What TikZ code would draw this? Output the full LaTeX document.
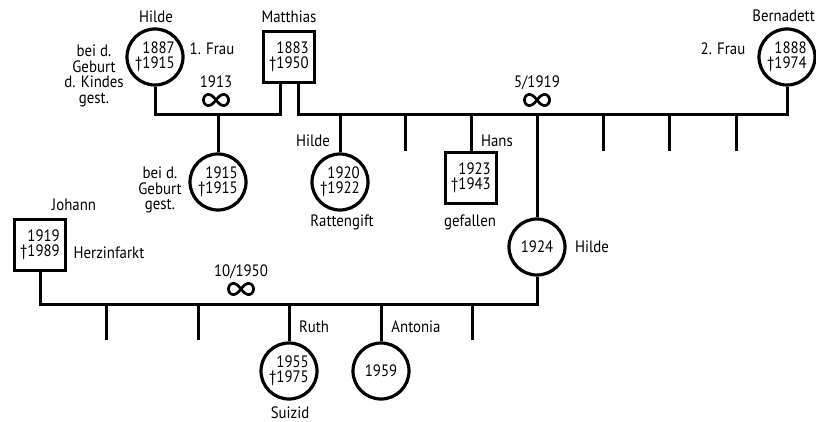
\documentclass[tikz,border=0pt]{standalone}
\usepackage{fontspec}
\setmainfont{PT Sans}[FakeStretch=0.9]
\begin{document}
\begin{tikzpicture}[x=1pt,y=-1pt,
  every node/.style={font=\fontsize{16.5}{15.5}\selectfont, inner sep=0pt},
  fem/.style={circle, draw, line width=3.2pt, minimum size=56pt, align=right},
  mal/.style={rectangle, draw, line width=3.5pt, minimum size=51pt, align=right},
  ln/.style={line width=3pt, line join=miter},
  lbl/.style={align=center},
  infsym/.style={line width=2.7pt}]
\useasboundingbox (0,0) rectangle (816,422);

% persons
\node[fem] (hilde1) at (155,57) {1887\\†1915};
\node[mal] (matthias) at (289,57) {1883\\†1950};
\node[fem] (bern) at (787,57) {1888\\†1974};
\node[fem] (c1915) at (218,182) {1915\\†1915};
\node[fem] (hilde2) at (340,182) {1920\\†1922};
\node[mal] (hans) at (471,178) {1923\\†1943};
\node[fem] (hilde3) at (537,247) {1924};
\node[mal] (johann) at (40,245) {1919\\†1989};
\node[fem] (ruth) at (289,371) {1955\\†1975};
\node[fem] (antonia) at (381,371) {1959};

% levels
\coordinate (lev1) at (0,115);
\coordinate (lev3) at (0,304);
\coordinate (mleg) at ([xshift=-9pt]matthias.south);
\coordinate (mleg2) at ([xshift=9pt]matthias.south);

% marriage 1
\draw[ln] (hilde1.south) |- (mleg |- lev1) -- (mleg);
\draw[ln] (c1915.north |- lev1) -- (c1915.north);

% marriage 2
\draw[ln] (mleg2) |- (bern.south |- lev1) -- (bern.south);
\draw[ln] (hilde2.north |- lev1) -- (hilde2.north);
\draw[ln] (hans.north |- lev1) -- (hans.north);
\draw[ln] (hilde3.north |- lev1) -- (hilde3.north);
\coordinate (s1) at (405,115);
\coordinate (s2) at (603,115);
\coordinate (s3) at (669,115);
\coordinate (s4) at (736,115);
\foreach \s in {s1,s2,s3,s4} \draw[ln] (\s) -- ++(0,36);

% marriage 3
\draw[ln] (johann.south) |- (hilde3.south |- lev3) -- (hilde3.south);
\draw[ln] (ruth.north |- lev3) -- (ruth.north);
\draw[ln] (antonia.north |- lev3) -- (antonia.north);
\coordinate (t1) at (106,304);
\coordinate (t2) at (198,304);
\coordinate (t3) at (472,304);
\foreach \s in {t1,t2,t3} \draw[ln] (\s) -- ++(0,36);

% marriage symbols
\node[anchor=base] (d1) at (216,88) {1913};
\node[anchor=base] (d2) at (537,88) {5/1919};
\node[anchor=base] (d3) at (241,276) {10/1950};
\coordinate (i1) at (216,100);
\coordinate (i2) at (537,100);
\coordinate (i3) at (241,289);
\foreach \c in {i1,i2,i3}
  \draw[infsym, shift={(\c)}] plot[domain=0:360, samples=90, smooth cycle]
    ({12.5*cos(\x)/(1+sin(\x)^2)}, {1.25*12.5*sin(\x)*cos(\x)/(1+sin(\x)^2)});

% labels
\node[anchor=base] (nHilde1) at (156,23) {Hilde};
\node[anchor=base] (nMatthias) at (289,23) {Matthias};
\node[anchor=base east] (nBern) at (815,22) {Bernadett};
\node[anchor=base] (nFrau1) at (212,55) {1. Frau};
\node[anchor=base] (nFrau2) at (723,55) {2. Frau};
\node[lbl] (nDeath1) at (94,76) {bei d.\\Geburt\\d. Kindes\\gest.};
\node[lbl] (nDeath2) at (160,190) {bei d.\\Geburt\\gest.};
\node[anchor=base] (nHilde2) at (313,147) {Hilde};
\node[anchor=base] (nRatten) at (342,226) {Rattengift};
\node[anchor=base] (nHans) at (497,147) {Hans};
\node[anchor=base] (nGef) at (470,226) {gefallen};
\node[anchor=base] (nHilde3) at (592,252) {Hilde};
\node[anchor=base] (nJohann) at (74,211) {Johann};
\node[anchor=base] (nHerz) at (109,258) {Herzinfarkt};
\node[anchor=base] (nRuth) at (314,332) {Ruth};
\node[anchor=base] (nAnt) at (416,332) {Antonia};
\node[anchor=base] (nSui) at (290,418) {Suizid};
\end{tikzpicture}
\end{document}
